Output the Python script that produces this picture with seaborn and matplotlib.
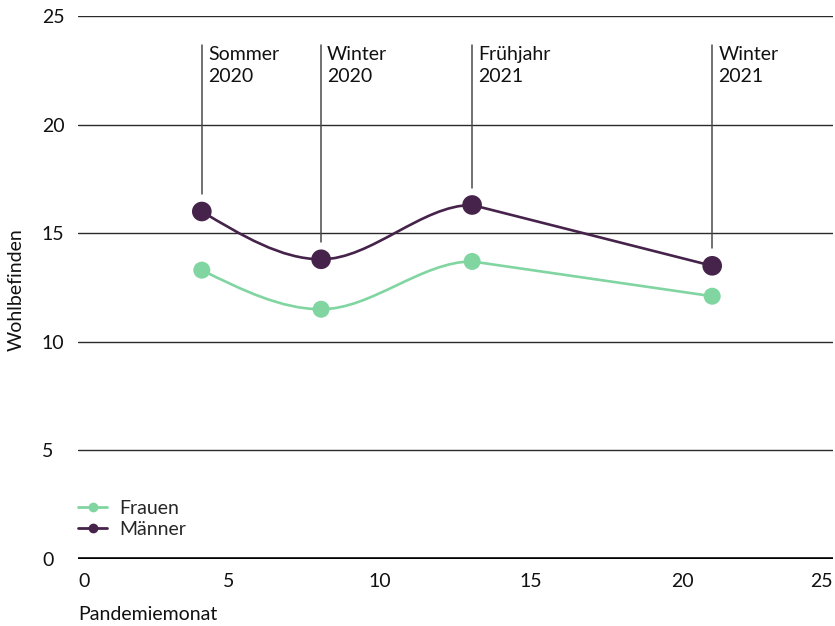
import numpy as np
import pandas as pd
import matplotlib
matplotlib.use("Agg")
import matplotlib.pyplot as plt
from matplotlib.path import Path
from matplotlib.patches import PathPatch
from matplotlib.lines import Line2D
import seaborn as sns

# Survey waves (pandemic month) and mean well-being scores
monate = [4.1, 8.05, 13.05, 21.0]
frauen = [13.3, 11.5, 13.7, 12.1]
maenner = [16.0, 13.8, 16.3, 13.5]
wellen = ["Sommer\n2020", "Winter\n2020", "Frühjahr\n2021", "Winter\n2021"]
x_ticks = [0, 5, 10, 15, 20, 25]
y_ticks = [0, 5, 10, 15, 20, 25]

FARBE_F = "#80d5a1"
FARBE_M = "#46234a"
FS = 14

sns.set_theme(style="white")
plt.rcParams["font.family"] = ["Lato", "DejaVu Sans"]

df = pd.DataFrame({
    "Pandemiemonat": monate * 2,
    "Wohlbefinden": frauen + maenner,
    "Gruppe": ["Frauen"] * len(monate) + ["Männer"] * len(monate),
})

fig = plt.figure(figsize=(8.35, 6.26), dpi=100)
ax = fig.add_axes([0.0934, 0.107, 0.9042, 0.8674])
ax.set_xlim(0, 25)
ax.set_ylim(0, 25)


def smooth_path(xs, ys):
    """Cubic Bezier path with monotone tangents; the last stretch is drawn straight."""
    xs = np.asarray(xs, float)
    ys = np.asarray(ys, float)
    h = np.diff(xs)
    s = np.diff(ys) / h
    n = len(xs)
    t = np.zeros(n)
    for i in range(1, n - 1):
        p = (s[i - 1] * h[i] + s[i] * h[i - 1]) / (h[i - 1] + h[i])
        t[i] = (np.sign(s[i - 1]) + np.sign(s[i])) * min(abs(s[i - 1]), abs(s[i]), 0.5 * abs(p))
    t[0] = (3 * s[0] - t[1]) / 2
    verts = [(xs[0], ys[0])]
    codes = [Path.MOVETO]
    for i in range(n - 1):
        if i == n - 2:
            t_a, t_b = s[i], s[i]
        else:
            t_a, t_b = t[i], t[i + 1]
        dx = h[i] / 3
        verts += [(xs[i] + dx, ys[i] + dx * t_a),
                  (xs[i + 1] - dx, ys[i + 1] - dx * t_b),
                  (xs[i + 1], ys[i + 1])]
        codes += [Path.CURVE4] * 3
    return Path(verts, codes)


# Horizontal grid lines
for yv in y_ticks[1:]:
    ax.axhline(yv, color="#2a2a2a", lw=1.0, zorder=1)
ax.axhline(0, color="black", lw=2.6, zorder=1)

# Wave markers with labels
for xm, ym, lab in zip(monate, maenner, wellen):
    ax.plot([xm, xm], [ym + 0.8, 23.65], color="#4a4a4a", lw=1.1, zorder=1)
    ax.text(xm + 0.2, 23.6, lab, ha="left", va="top", fontsize=FS,
            linespacing=1.35, color="#111111")

# Smooth connecting curves
ax.add_patch(PathPatch(smooth_path(monate, frauen), fill=False,
                       edgecolor=FARBE_F, lw=1.9, zorder=2))
ax.add_patch(PathPatch(smooth_path(monate, maenner), fill=False,
                       edgecolor=FARBE_M, lw=1.9, zorder=2))

# Data points
sns.scatterplot(data=df[df.Gruppe == "Frauen"], x="Pandemiemonat", y="Wohlbefinden",
                color=FARBE_F, s=150, edgecolor="none", ax=ax, zorder=3, legend=False)
sns.scatterplot(data=df[df.Gruppe == "Männer"], x="Pandemiemonat", y="Wohlbefinden",
                color=FARBE_M, s=200, edgecolor="none", ax=ax, zorder=3, legend=False)

# Axes styling
for sp in ax.spines.values():
    sp.set_visible(False)
ax.set_xticks(x_ticks)
ax.set_yticks(y_ticks)
ax.set_xticklabels([str(v) for v in x_ticks])
ax.set_yticklabels([str(v) for v in y_ticks])
ax.tick_params(axis="both", length=0, labelsize=FS, colors="#111111")
ax.tick_params(axis="x", pad=10)
for lbl in ax.get_yticklabels():
    lbl.set_horizontalalignment("left")
ax.tick_params(axis="y", pad=26)
xl = ax.get_xticklabels()
xl[0].set_horizontalalignment("left")
xl[-1].set_horizontalalignment("right")

ax.set_xlabel("")
ax.set_ylabel("")
fig.text(78 / 835, 1 - 614 / 626, "Pandemiemonat", ha="left", va="center",
         fontsize=FS, color="#111111")
fig.text(16 / 835, 1 - 290 / 626, "Wohlbefinden", ha="center", va="center",
         rotation=90, fontsize=FS, color="#111111")

# Legend
handles = [
    Line2D([], [], color=FARBE_F, lw=2, marker="o", markersize=6, label="Frauen"),
    Line2D([], [], color=FARBE_M, lw=2, marker="o", markersize=6, label="Männer"),
]
ax.legend(handles=handles, loc="lower left", bbox_to_anchor=(-0.0103, 0.025),
          frameon=False, fontsize=FS, handlelength=1.5, handletextpad=0.6,
          labelspacing=0.2, borderaxespad=0)

fig.savefig("out.png", dpi=100, facecolor="white")
